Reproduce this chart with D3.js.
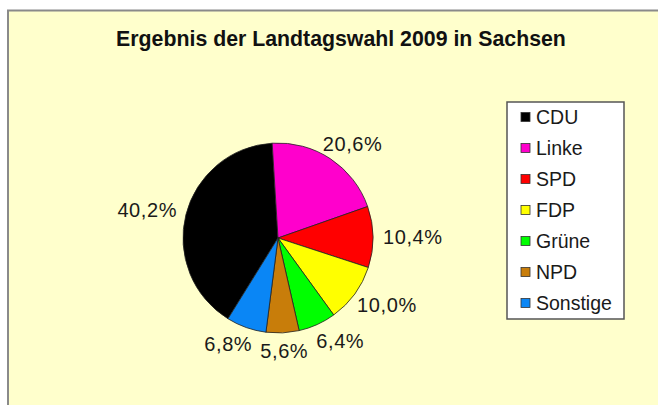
<!DOCTYPE html>
<html>
<head>
<meta charset="utf-8">
<script src="https://cdn.jsdelivr.net/npm/d3@7"></script>
<style>
  html, body { margin: 0; padding: 0; background: #ffffff; }
  svg { display: block; }
  text { font-family: "Liberation Sans", Arial, sans-serif; }
</style>
</head>
<body>
<svg id="chart" width="658" height="405"></svg>
<script>
const title = "Ergebnis der Landtagswahl 2009 in Sachsen";
const parties = ["CDU", "Linke", "SPD", "FDP", "Grüne", "NPD", "Sonstige"];
const shares = [40.2, 20.6, 10.4, 10.0, 6.4, 5.6, 6.8];
const colors = ["#000000", "#ff00cc", "#ff0000", "#ffff00", "#00ff00", "#c87d0a", "#0a86f5"];

const W = 658, H = 405;
const svg = d3.select("#chart");

// chart area background with border
svg.append("rect")
  .attr("x", 8).attr("y", 10.5)
  .attr("width", W).attr("height", H)
  .attr("fill", "#ffffcc")
  .attr("stroke", "#8a8a8a").attr("stroke-width", 2);

svg.append("text")
  .attr("x", 341).attr("y", 46)
  .attr("text-anchor", "middle")
  .attr("font-size", 21.3).attr("font-weight", "bold")
  .attr("fill", "#111")
  .text(title);

const cx = 278, cy = 238, r = 95;
const data = parties.map((p, i) => ({ party: p, value: shares[i], color: colors[i] }));

// CDU (first) ends at the top; Linke starts just left of 12 o'clock
const offset = -3.5 * Math.PI / 180;
const cduAngle = shares[0] / d3.sum(shares) * 2 * Math.PI;
const pie = d3.pie().sort(null).value(d => d.value)
  .startAngle(offset - cduAngle)
  .endAngle(offset - cduAngle + 2 * Math.PI);
const arcs = pie(data);
const arc = d3.arc().innerRadius(0).outerRadius(r);

const g = svg.append("g").attr("transform", `translate(${cx},${cy})`);
g.selectAll("path.slice").data(arcs).enter().append("path")
  .attr("class", "slice")
  .attr("d", arc)
  .attr("fill", d => d.data.color)
  .attr("stroke", "#222").attr("stroke-width", 0.8);

// data labels outside (best-fit style: box pushed outward along mid-angle)
const fmt = v => v.toFixed(1).replace(".", ",") + "%";
const fs = 20;
const labels = g.selectAll("text.lbl").data(arcs).enter().append("text")
  .attr("class", "lbl")
  .attr("font-size", fs)
  .attr("letter-spacing", 0.6)
  .attr("fill", "#1a1a1a")
  .attr("text-anchor", "middle")
  .attr("dominant-baseline", "central")
  .text(d => fmt(d.data.value));

const boxes = [];
labels.each(function(d) {
  const a = (d.startAngle + d.endAngle) / 2;
  const s = Math.sin(a), c = -Math.cos(a);
  const w = this.getComputedTextLength();
  const h = 16;
  const rr = r + 10;
  boxes.push({ node: this, a, w, h, x: rr * s + s * w / 2, y: rr * c + c * h / 2 });
});

// simple overlap resolution: move the label farther from the bottom sideways
const gap = 8;
const norm = a => ((a % (2 * Math.PI)) + 2 * Math.PI) % (2 * Math.PI);
for (let iter = 0; iter < 5; iter++) {
  for (let i = 0; i < boxes.length; i++) {
    for (let j = i + 1; j < boxes.length; j++) {
      const A = boxes[i], B = boxes[j];
      const vOver = Math.abs(A.y - B.y) < (A.h + B.h) / 2;
      const need = (A.w + B.w) / 2 + gap - Math.abs(A.x - B.x);
      if (vOver && need > 0) {
        const da = Math.abs(Math.PI - norm(A.a));
        const db = Math.abs(Math.PI - norm(B.a));
        const mover = da > db ? A : B, other = mover === A ? B : A;
        mover.x += (mover.x >= other.x ? 1 : -1) * need;
      }
    }
  }
}
boxes.forEach(b => d3.select(b.node).attr("x", b.x).attr("y", b.y));

// legend
const lx = 507, ly = 102, lw = 117, lh = 217;
const leg = svg.append("g");
leg.append("rect")
  .attr("x", lx).attr("y", ly).attr("width", lw).attr("height", lh)
  .attr("fill", "#ffffff").attr("stroke", "#555").attr("stroke-width", 1.5);
const rowY = d3.scalePoint().domain(parties).range([ly + 15, ly + 201]);
const items = leg.selectAll("g.item").data(data).enter().append("g").attr("class", "item")
  .attr("transform", d => `translate(${lx + 14},${rowY(d.party)})`);
items.append("rect")
  .attr("x", 0).attr("y", -4.5).attr("width", 9).attr("height", 9)
  .attr("fill", d => d.color).attr("stroke", "#333").attr("stroke-width", 0.8);
items.append("text")
  .attr("x", 15).attr("y", 0)
  .attr("dominant-baseline", "central")
  .attr("font-size", 19.5)
  .attr("fill", "#1a1a1a")
  .text(d => d.party);
</script>
</body>
</html>
